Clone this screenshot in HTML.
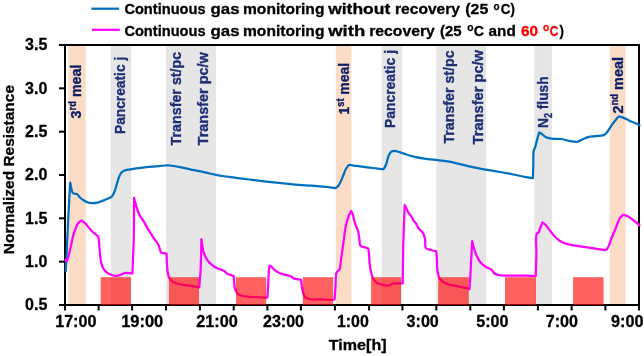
<!DOCTYPE html>
<html><head><meta charset="utf-8"><title>Normalized resistance chart</title><style>html,body{margin:0;padding:0;background:#fff;width:644px;height:356px;overflow:hidden}</style></head><body>
<svg width="644" height="356" viewBox="0 0 644 356" style="display:block;font-family:'Liberation Sans',Arial,sans-serif;font-weight:bold">
<rect width="644" height="356" fill="#fff"/>
<rect x="68.3" y="45" width="17.45" height="260" fill="#FBDCC7"/>
<rect x="335.8" y="45" width="15.60" height="260" fill="#FBDCC7"/>
<rect x="609.8" y="45" width="15.90" height="260" fill="#FBDCC7"/>
<rect x="110.8" y="45" width="20.50" height="260" fill="#E6E6E6"/>
<rect x="166.0" y="45" width="50.00" height="260" fill="#E6E6E6"/>
<rect x="381.6" y="45" width="20.60" height="260" fill="#E6E6E6"/>
<rect x="436.3" y="45" width="49.70" height="260" fill="#E6E6E6"/>
<rect x="534.3" y="45" width="17.60" height="260" fill="#E6E6E6"/>
<text transform="translate(80.7 118.39) rotate(-90)" font-size="15.2" fill="#0B1F66" stroke="#0B1F66" stroke-width="0.35" textLength="53.82" lengthAdjust="spacingAndGlyphs">3<tspan font-size="10" dy="-5">rd</tspan><tspan dy="5"> meal</tspan></text>
<text transform="translate(125.1 134.01) rotate(-90)" font-size="15.2" fill="#1E2F74" stroke="#1E2F74" stroke-width="0.35" textLength="77.22" lengthAdjust="spacingAndGlyphs">Pancreatic j</text>
<text transform="translate(180.7 145.40) rotate(-90)" font-size="15.2" fill="#1E2F74" stroke="#1E2F74" stroke-width="0.35" textLength="93.60" lengthAdjust="spacingAndGlyphs">Transfer st/pc</text>
<text transform="translate(208.1 145.40) rotate(-90)" font-size="15.2" fill="#1E2F74" stroke="#1E2F74" stroke-width="0.35" textLength="93.20" lengthAdjust="spacingAndGlyphs">Transfer pc/w</text>
<text transform="translate(349 114.42) rotate(-90)" font-size="15.2" fill="#0B1F66" stroke="#0B1F66" stroke-width="0.35" textLength="51.43" lengthAdjust="spacingAndGlyphs">1<tspan font-size="10" dy="-5">st</tspan><tspan dy="5"> meal</tspan></text>
<text transform="translate(394.5 128.03) rotate(-90)" font-size="15.2" fill="#1E2F74" stroke="#1E2F74" stroke-width="0.35" textLength="78.05" lengthAdjust="spacingAndGlyphs">Pancreatic j</text>
<text transform="translate(454 143.60) rotate(-90)" font-size="15.2" fill="#1E2F74" stroke="#1E2F74" stroke-width="0.35" textLength="93.20" lengthAdjust="spacingAndGlyphs">Transfer st/pc</text>
<text transform="translate(483 144.40) rotate(-90)" font-size="15.2" fill="#1E2F74" stroke="#1E2F74" stroke-width="0.35" textLength="94.40" lengthAdjust="spacingAndGlyphs">Transfer pc/w</text>
<text transform="translate(547.7 128.03) rotate(-90)" font-size="15.2" fill="#1E2F74" stroke="#1E2F74" stroke-width="0.35" textLength="51.63" lengthAdjust="spacingAndGlyphs">N<tspan font-size="10" dy="4">2</tspan><tspan dy="-4"> flush</tspan></text>
<text transform="translate(622.5 113.61) rotate(-90)" font-size="15.2" fill="#0B1F66" stroke="#0B1F66" stroke-width="0.35" textLength="56.63" lengthAdjust="spacingAndGlyphs">2<tspan font-size="10" dy="-5">nd</tspan><tspan dy="5"> meal</tspan></text>
<rect x="65" y="45" width="574" height="260" fill="none" stroke="#000" stroke-width="2"/>
<path d="M65.90,271.00C66.73,252.33 67.59,231.13 68.40,215.00C69.01,202.73 69.60,193.40 70.20,182.60C71.03,185.97 71.48,191.14 72.70,192.70C73.25,193.41 73.90,193.44 74.60,193.70C75.38,193.99 76.41,193.82 77.20,194.30C78.14,194.87 78.73,196.26 79.70,197.20C80.79,198.27 82.18,199.45 83.50,200.30C84.72,201.09 85.91,201.74 87.30,202.20C88.82,202.71 90.62,203.03 92.30,203.10C93.99,203.17 95.73,202.96 97.40,202.60C99.10,202.23 100.73,201.53 102.40,200.90C104.10,200.26 105.88,199.56 107.50,198.80C109.04,198.08 110.71,197.72 111.90,196.50C113.32,195.05 114.10,192.52 115.00,190.20C116.03,187.55 116.81,183.87 117.60,181.40C118.18,179.58 118.58,178.15 119.20,176.70C119.76,175.37 120.25,174.04 121.10,173.00C121.93,171.98 122.90,171.11 124.20,170.50C125.84,169.74 127.97,169.70 130.40,169.30C133.82,168.74 138.65,168.08 142.80,167.60C146.95,167.12 151.38,166.77 155.30,166.40C158.79,166.07 162.46,165.62 165.20,165.50C167.15,165.41 168.26,165.34 170.20,165.50C172.95,165.72 176.81,166.47 180.10,167.10C183.41,167.73 186.87,168.64 190.00,169.30C192.81,169.89 195.34,170.35 198.00,170.90C200.64,171.45 203.11,171.98 205.90,172.60C209.04,173.30 212.47,174.23 215.90,174.90C219.49,175.60 223.19,176.13 227.00,176.70C231.04,177.30 235.34,177.88 239.50,178.40C243.64,178.92 247.77,179.32 251.90,179.80C256.03,180.28 260.23,180.83 264.30,181.30C268.26,181.76 272.21,182.21 276.00,182.60C279.57,182.97 282.78,183.25 286.40,183.60C290.35,183.98 294.66,184.45 298.80,184.80C302.96,185.15 307.14,185.38 311.30,185.70C315.44,186.02 319.62,186.29 323.70,186.70C327.69,187.10 331.57,187.63 335.50,188.10C336.53,187.23 337.61,186.79 338.60,185.50C340.18,183.44 341.71,179.06 343.00,176.10C344.13,173.50 344.92,170.66 346.00,168.70C346.79,167.26 347.67,166.37 348.50,165.20C349.33,165.13 350.13,164.95 351.00,165.00C351.96,165.06 352.83,165.41 354.00,165.60C355.63,165.86 357.57,166.00 359.90,166.30C363.30,166.73 368.35,167.51 372.40,168.00C376.21,168.46 379.80,168.80 383.50,169.20C384.33,167.73 385.26,166.57 386.00,164.80C386.99,162.44 387.50,158.45 388.50,156.10C389.24,154.36 389.86,152.65 391.00,151.80C392.00,151.05 393.38,150.89 394.70,150.90C396.24,150.91 397.95,151.68 399.70,152.20C401.67,152.79 403.65,153.60 405.90,154.30C408.55,155.13 411.59,156.10 414.60,156.80C417.78,157.54 420.94,158.06 424.50,158.60C428.62,159.22 433.63,159.68 437.90,160.20C441.80,160.68 445.49,160.96 449.10,161.60C452.54,162.21 455.59,163.09 459.10,163.90C463.01,164.81 467.36,165.90 471.50,166.80C475.63,167.70 479.76,168.53 483.90,169.30C488.03,170.07 492.23,170.71 496.30,171.40C500.26,172.07 504.50,172.74 508.00,173.40C510.87,173.94 513.05,174.43 515.80,175.00C518.90,175.65 522.65,176.57 525.70,177.10C528.28,177.55 530.50,177.77 532.90,178.10C533.03,173.97 533.17,170.01 533.30,165.70C533.44,161.01 533.05,154.21 533.70,151.00C534.03,149.36 534.64,148.83 535.10,147.40C535.74,145.41 536.33,142.56 537.00,140.10C537.69,137.56 538.47,134.97 539.20,132.40C539.97,132.83 540.72,133.15 541.50,133.70C542.42,134.34 543.26,135.41 544.30,136.10C545.39,136.82 546.54,137.46 547.90,137.90C549.51,138.42 551.41,138.61 553.40,138.80C555.72,139.02 558.74,138.72 561.00,139.00C562.85,139.23 564.43,139.73 566.00,140.10C567.41,140.43 568.44,140.85 570.00,141.10C572.14,141.45 575.67,142.08 577.70,141.70C579.14,141.43 579.82,140.61 581.20,140.00C583.12,139.15 585.82,137.83 588.20,137.20C590.52,136.58 592.83,136.54 595.30,136.20C597.98,135.84 601.72,135.91 603.70,135.10C604.97,134.58 605.51,134.05 606.50,133.00C608.19,131.21 610.12,127.33 612.10,124.60C614.09,121.86 616.30,119.27 618.40,116.60C619.57,116.77 620.57,116.70 621.90,117.10C623.87,117.69 626.55,119.32 628.90,120.40C631.25,121.49 634.05,122.69 636.00,123.60C637.38,124.24 638.33,124.73 639.50,125.30" fill="none" stroke="#0070C0" stroke-width="2.25" stroke-linejoin="round" stroke-linecap="round"/>
<path d="M64.80,260.70C65.40,260.60 66.11,260.72 66.60,260.40C67.14,260.04 67.41,259.39 67.80,258.50C68.54,256.80 69.12,253.74 69.90,250.60C71.04,246.01 72.29,238.44 73.80,233.60C74.97,229.83 76.14,226.13 77.70,223.80C78.78,222.19 80.10,221.47 81.30,220.30C82.73,221.47 84.12,222.36 85.60,223.80C87.49,225.65 89.37,228.57 91.50,230.70C93.63,232.83 96.10,234.63 98.40,236.60C98.60,238.23 98.80,239.58 99.00,241.50C99.28,244.20 99.44,247.89 99.80,251.30C100.19,255.06 100.38,259.75 101.30,263.10C102.03,265.77 102.89,268.16 104.30,270.00C105.59,271.68 107.26,272.93 109.20,273.90C111.40,275.00 114.84,275.99 117.00,275.90C118.57,275.83 119.68,274.99 121.00,274.50C122.31,274.02 123.36,273.24 124.90,273.00C126.97,272.67 129.90,273.27 132.40,273.40C132.83,262.27 133.41,251.78 133.70,240.00C134.02,226.78 133.97,211.93 134.10,197.90C134.67,200.13 135.16,202.40 135.80,204.60C136.43,206.77 137.15,209.02 137.90,211.00C138.56,212.76 139.15,214.37 140.00,215.90C140.83,217.40 141.97,218.63 142.90,220.10C143.88,221.65 144.77,223.37 145.70,225.00C146.63,226.63 147.54,228.35 148.50,229.90C149.41,231.37 150.45,232.75 151.30,234.10C152.07,235.31 152.67,236.49 153.40,237.60C154.10,238.66 154.84,239.51 155.60,240.60C156.49,241.87 157.69,243.35 158.40,244.80C159.06,246.16 159.32,247.66 159.80,249.00C160.25,250.25 160.40,251.90 161.20,252.60C161.89,253.21 163.08,253.15 164.00,253.30C164.88,253.44 165.73,253.43 166.60,253.50C166.70,256.70 166.72,260.01 166.90,263.10C167.07,266.00 167.15,268.90 167.60,271.50C168.00,273.82 168.36,276.21 169.30,278.00C170.12,279.55 171.30,280.88 172.60,281.80C173.85,282.68 175.20,283.00 176.90,283.50C179.21,284.18 182.49,284.72 185.30,285.20C188.09,285.68 191.20,286.02 193.70,286.40C195.73,286.71 197.37,287.00 199.20,287.30C199.67,281.53 200.25,276.60 200.60,270.00C201.07,261.21 201.13,249.47 201.40,239.20C201.73,241.57 201.99,244.01 202.40,246.30C202.79,248.47 203.17,250.66 203.80,252.60C204.37,254.36 205.15,256.03 205.90,257.50C206.56,258.79 207.08,259.84 208.00,261.00C209.11,262.41 210.82,264.00 212.30,265.20C213.66,266.30 214.95,267.21 216.50,268.00C218.19,268.86 220.57,269.43 222.10,270.10C223.21,270.58 224.08,270.91 224.90,271.50C225.70,272.08 226.18,273.08 227.00,273.60C227.82,274.12 228.80,274.21 229.80,274.60C230.98,275.06 232.33,275.67 233.60,276.20C233.83,278.77 234.03,281.63 234.30,283.90C234.51,285.72 234.46,287.22 235.00,288.80C235.58,290.49 236.55,292.52 237.80,293.70C238.94,294.78 240.37,295.29 242.00,295.80C244.01,296.43 246.74,296.57 249.10,296.80C251.44,297.03 253.77,297.08 256.10,297.20C258.43,297.32 261.05,297.46 263.10,297.50C264.71,297.53 265.97,297.50 267.40,297.50C267.63,293.70 267.88,290.10 268.10,286.10C268.35,281.65 268.50,275.76 268.80,272.00C269.00,269.48 269.27,267.80 269.50,265.70C269.97,265.83 270.43,265.80 270.90,266.10C271.59,266.54 272.22,267.73 273.00,268.50C273.84,269.33 274.73,270.16 275.80,270.90C277.02,271.74 278.56,272.58 280.00,273.20C281.40,273.80 282.76,274.16 284.30,274.60C286.04,275.10 288.50,275.50 289.90,276.00C290.79,276.32 291.40,276.58 292.00,277.00C292.55,277.39 292.76,278.06 293.40,278.40C294.26,278.86 295.68,278.88 296.90,279.10C298.23,279.34 299.70,279.57 301.10,279.80C301.33,281.90 301.47,283.95 301.80,286.10C302.15,288.38 302.51,291.10 303.20,293.10C303.76,294.72 304.23,296.32 305.30,297.30C306.35,298.27 307.92,298.62 309.50,299.00C311.40,299.46 313.97,299.57 316.00,299.60C317.77,299.63 318.98,299.31 321.00,299.30C324.10,299.29 330.61,300.20 332.80,299.90C333.68,299.78 334.00,299.50 334.60,299.30C334.90,294.73 335.18,290.09 335.50,285.60C335.81,281.26 335.51,275.18 336.50,272.80C336.96,271.69 337.75,271.34 338.30,270.70C338.77,270.16 339.24,269.99 339.60,269.20C340.39,267.50 340.54,263.28 341.00,260.10C341.51,256.61 342.01,252.59 342.50,249.10C342.94,245.92 343.32,243.35 343.80,240.00C344.39,235.86 344.91,230.31 345.80,226.10C346.57,222.49 347.55,218.95 348.60,216.20C349.40,214.12 350.33,212.67 351.20,210.90C351.77,212.20 352.37,213.22 352.90,214.80C353.67,217.06 354.14,220.63 355.00,223.30C355.80,225.78 357.10,227.93 357.80,230.30C358.48,232.60 358.85,234.96 359.20,237.30C359.55,239.62 359.33,242.70 359.90,244.30C360.24,245.26 360.64,245.93 361.30,246.40C362.01,246.90 363.08,246.80 364.10,247.10C365.36,247.47 366.90,248.03 368.30,248.50C368.53,250.33 368.79,251.90 369.00,254.00C369.28,256.82 369.33,260.74 369.70,263.90C370.05,266.82 370.46,269.72 371.10,272.30C371.66,274.57 372.26,276.87 373.20,278.60C373.97,280.02 374.76,281.13 376.00,282.10C377.47,283.24 379.77,284.12 381.70,284.70C383.54,285.26 385.75,285.59 387.30,285.60C388.39,285.61 389.27,285.52 390.10,285.20C390.89,284.90 391.37,284.12 392.20,283.80C393.18,283.42 394.48,283.39 395.70,283.30C397.03,283.21 398.64,283.26 399.90,283.30C400.93,283.34 401.77,283.43 402.70,283.50C402.93,269.00 403.03,253.70 403.40,240.00C403.73,227.72 404.27,216.73 404.70,205.10C405.30,206.27 405.88,207.37 406.50,208.60C407.18,209.96 407.77,211.58 408.60,212.90C409.41,214.18 410.58,215.14 411.40,216.40C412.25,217.70 412.75,219.30 413.60,220.60C414.42,221.86 415.59,222.83 416.40,224.10C417.23,225.40 417.70,227.19 418.50,228.30C419.14,229.18 419.90,229.70 420.60,230.40C421.30,231.10 422.12,231.70 422.70,232.50C423.29,233.32 423.72,234.25 424.10,235.30C424.55,236.54 424.83,237.84 425.10,239.50C425.49,241.85 424.67,246.44 425.90,248.10C426.79,249.30 428.56,249.31 430.10,249.80C431.88,250.37 434.03,250.73 436.00,251.20C436.27,252.87 436.60,254.12 436.80,256.20C437.13,259.60 436.74,265.76 437.30,269.70C437.75,272.86 438.16,275.91 439.40,278.10C440.43,279.92 441.90,281.21 443.60,282.30C445.47,283.50 447.91,284.12 450.30,284.80C452.91,285.55 455.90,285.93 458.70,286.50C461.50,287.07 465.20,287.57 467.10,288.20C468.14,288.55 468.63,288.93 469.40,289.30C469.70,284.97 470.01,281.02 470.30,276.30C470.65,270.68 470.98,263.81 471.30,257.80C471.61,252.09 471.90,246.67 472.20,241.10C472.80,243.57 473.24,246.06 474.00,248.50C474.77,250.99 475.70,253.55 476.80,255.90C477.87,258.18 478.93,260.54 480.50,262.40C482.04,264.23 484.17,265.74 486.10,267.00C487.88,268.16 490.17,268.60 491.60,269.80C492.84,270.84 493.19,272.63 494.40,273.50C495.64,274.38 497.74,274.68 499.00,275.00C499.86,275.22 500.20,275.29 501.20,275.40C503.31,275.62 507.51,275.65 511.10,275.70C515.36,275.76 520.76,275.66 525.10,275.70C528.88,275.74 532.17,275.83 535.70,275.90C535.93,268.93 536.22,262.01 536.40,255.00C536.58,247.91 535.31,236.19 536.80,233.60C537.27,232.79 538.10,233.12 538.60,232.50C539.36,231.57 539.60,229.57 540.20,228.00C540.88,226.23 541.73,224.27 542.50,222.40C543.47,223.13 544.46,223.66 545.40,224.60C546.57,225.77 547.58,227.52 548.80,229.10C550.19,230.89 551.75,233.05 553.30,234.80C554.75,236.43 556.13,237.99 557.80,239.30C559.49,240.63 561.48,241.82 563.40,242.70C565.22,243.53 567.17,244.04 569.00,244.50C570.70,244.92 572.07,245.07 574.00,245.40C576.66,245.85 580.16,246.40 583.50,246.90C587.22,247.46 591.60,248.04 595.30,248.60C598.59,249.10 601.50,249.60 604.60,250.10C605.43,249.70 606.31,249.73 607.10,248.90C608.67,247.24 609.90,242.17 611.30,238.80C612.70,235.43 614.10,232.08 615.50,228.70C616.90,225.31 618.13,220.96 619.70,218.50C620.76,216.84 621.97,216.03 623.10,214.80C624.50,215.20 625.88,215.35 627.30,216.00C628.98,216.78 630.73,218.16 632.40,219.40C634.13,220.69 636.19,222.51 637.50,223.60C638.32,224.29 638.83,224.73 639.50,225.30" fill="none" stroke="#FF00FF" stroke-width="2.25" stroke-linejoin="round" stroke-linecap="round"/>
<circle cx="66.3" cy="260.6" r="2" fill="#FF00FF"/>
<rect x="100.7" y="277.2" width="30.20" height="27.80000000000001" fill="rgba(255,0,0,0.625)"/>
<rect x="168.9" y="277.2" width="30.10" height="27.80000000000001" fill="rgba(255,0,0,0.625)"/>
<rect x="236" y="277.2" width="30.20" height="27.80000000000001" fill="rgba(255,0,0,0.625)"/>
<rect x="302.8" y="277.2" width="30.40" height="27.80000000000001" fill="rgba(255,0,0,0.625)"/>
<rect x="371.1" y="277.2" width="29.90" height="27.80000000000001" fill="rgba(255,0,0,0.625)"/>
<rect x="438.2" y="277.2" width="30.60" height="27.80000000000001" fill="rgba(255,0,0,0.625)"/>
<rect x="505" y="277.2" width="30.90" height="27.80000000000001" fill="rgba(255,0,0,0.625)"/>
<rect x="573.1" y="277.2" width="30.50" height="27.80000000000001" fill="rgba(255,0,0,0.625)"/>
<line x1="59" y1="45.00" x2="65" y2="45.00" stroke="#000" stroke-width="2"/>
<line x1="59" y1="88.33" x2="65" y2="88.33" stroke="#000" stroke-width="2"/>
<line x1="59" y1="131.67" x2="65" y2="131.67" stroke="#000" stroke-width="2"/>
<line x1="59" y1="175.00" x2="65" y2="175.00" stroke="#000" stroke-width="2"/>
<line x1="59" y1="218.33" x2="65" y2="218.33" stroke="#000" stroke-width="2"/>
<line x1="59" y1="261.67" x2="65" y2="261.67" stroke="#000" stroke-width="2"/>
<line x1="59" y1="305.00" x2="65" y2="305.00" stroke="#000" stroke-width="2"/>
<line x1="65" y1="305" x2="65" y2="310.5" stroke="#000" stroke-width="2"/>
<line x1="98.6" y1="305" x2="98.6" y2="310.5" stroke="#000" stroke-width="2"/>
<line x1="132.1" y1="305" x2="132.1" y2="310.5" stroke="#000" stroke-width="2"/>
<line x1="166" y1="305" x2="166" y2="310.5" stroke="#000" stroke-width="2"/>
<line x1="199.9" y1="305" x2="199.9" y2="310.5" stroke="#000" stroke-width="2"/>
<line x1="233.7" y1="305" x2="233.7" y2="310.5" stroke="#000" stroke-width="2"/>
<line x1="267.4" y1="305" x2="267.4" y2="310.5" stroke="#000" stroke-width="2"/>
<line x1="300.9" y1="305" x2="300.9" y2="310.5" stroke="#000" stroke-width="2"/>
<line x1="334.9" y1="305" x2="334.9" y2="310.5" stroke="#000" stroke-width="2"/>
<line x1="369.1" y1="305" x2="369.1" y2="310.5" stroke="#000" stroke-width="2"/>
<line x1="402.4" y1="305" x2="402.4" y2="310.5" stroke="#000" stroke-width="2"/>
<line x1="436.3" y1="305" x2="436.3" y2="310.5" stroke="#000" stroke-width="2"/>
<line x1="470.3" y1="305" x2="470.3" y2="310.5" stroke="#000" stroke-width="2"/>
<line x1="503.9" y1="305" x2="503.9" y2="310.5" stroke="#000" stroke-width="2"/>
<line x1="537.9" y1="305" x2="537.9" y2="310.5" stroke="#000" stroke-width="2"/>
<line x1="571.6" y1="305" x2="571.6" y2="310.5" stroke="#000" stroke-width="2"/>
<line x1="605.4" y1="305" x2="605.4" y2="310.5" stroke="#000" stroke-width="2"/>
<line x1="639" y1="305" x2="639" y2="310.5" stroke="#000" stroke-width="2"/>
<text x="47.3" y="50.40" font-size="16" text-anchor="end" fill="#000" stroke="#000" stroke-width="0.3">3.5</text>
<text x="47.3" y="93.73" font-size="16" text-anchor="end" fill="#000" stroke="#000" stroke-width="0.3">3.0</text>
<text x="47.3" y="137.07" font-size="16" text-anchor="end" fill="#000" stroke="#000" stroke-width="0.3">2.5</text>
<text x="47.3" y="180.40" font-size="16" text-anchor="end" fill="#000" stroke="#000" stroke-width="0.3">2.0</text>
<text x="47.3" y="223.73" font-size="16" text-anchor="end" fill="#000" stroke="#000" stroke-width="0.3">1.5</text>
<text x="47.3" y="267.07" font-size="16" text-anchor="end" fill="#000" stroke="#000" stroke-width="0.3">1.0</text>
<text x="47.3" y="310.40" font-size="16" text-anchor="end" fill="#000" stroke="#000" stroke-width="0.3">0.5</text>
<text transform="translate(14.3 254.20) rotate(-90)" font-size="15.5" fill="#000" stroke="#000" stroke-width="0.3" textLength="169.20" lengthAdjust="spacingAndGlyphs">Normalized Resistance</text>
<text x="328.80" y="350.2" font-size="14.5" fill="#000" stroke="#000" stroke-width="0.3" textLength="57.80" lengthAdjust="spacingAndGlyphs">Time[h]</text>
<text x="55.19" y="327.2" font-size="16" fill="#000" stroke="#000" stroke-width="0.3" textLength="41.23" lengthAdjust="spacingAndGlyphs">17:00</text>
<text x="121.19" y="327.2" font-size="16" fill="#000" stroke="#000" stroke-width="0.3" textLength="42.02" lengthAdjust="spacingAndGlyphs">19:00</text>
<text x="196.20" y="327.2" font-size="16" fill="#000" stroke="#000" stroke-width="0.3" textLength="41.60" lengthAdjust="spacingAndGlyphs">21:00</text>
<text x="263.00" y="327.2" font-size="16" fill="#000" stroke="#000" stroke-width="0.3" textLength="41.00" lengthAdjust="spacingAndGlyphs">23:00</text>
<text x="336.95" y="327.2" font-size="16" fill="#000" stroke="#000" stroke-width="0.3" textLength="31.87" lengthAdjust="spacingAndGlyphs">1:00</text>
<text x="406.60" y="327.2" font-size="16" fill="#000" stroke="#000" stroke-width="0.3" textLength="32.21" lengthAdjust="spacingAndGlyphs">3:00</text>
<text x="476.20" y="327.2" font-size="16" fill="#000" stroke="#000" stroke-width="0.3" textLength="32.20" lengthAdjust="spacingAndGlyphs">5:00</text>
<text x="545.80" y="327.2" font-size="16" fill="#000" stroke="#000" stroke-width="0.3" textLength="32.21" lengthAdjust="spacingAndGlyphs">7:00</text>
<text x="611.00" y="327.2" font-size="16" fill="#000" stroke="#000" stroke-width="0.3" textLength="32.42" lengthAdjust="spacingAndGlyphs">9:00</text>
<text x="124.38" y="14.0" font-size="15.4" fill="#000" stroke="#000" stroke-width="0.3" textLength="81.23" lengthAdjust="spacingAndGlyphs">Continuous</text>
<text x="210.57" y="14.0" font-size="15.4" fill="#000" stroke="#000" stroke-width="0.3" textLength="29.04" lengthAdjust="spacingAndGlyphs">gas</text>
<text x="242.99" y="14.0" font-size="15.4" fill="#000" stroke="#000" stroke-width="0.3" textLength="81.44" lengthAdjust="spacingAndGlyphs">monitoring</text>
<text x="328.20" y="14.0" font-size="15.4" fill="#000" stroke="#000" stroke-width="0.3" textLength="62.00" lengthAdjust="spacingAndGlyphs">without</text>
<text x="394.99" y="14.0" font-size="15.4" fill="#000" stroke="#000" stroke-width="0.3" textLength="65.00" lengthAdjust="spacingAndGlyphs">recovery</text>
<text x="465.34" y="14.0" font-size="15.4" fill="#000" stroke="#000" stroke-width="0.3" textLength="22.90" lengthAdjust="spacingAndGlyphs">(25</text>
<text x="500.79" y="14.0" font-size="15.4" fill="#000" stroke="#000" stroke-width="0.3" textLength="14.08" lengthAdjust="spacingAndGlyphs">C)</text>
<text x="493.58" y="9.7" font-size="10" fill="#000" stroke="#000" stroke-width="0.25" textLength="6.05" lengthAdjust="spacingAndGlyphs">o</text>
<text x="124.38" y="35.6" font-size="15.4" fill="#000" stroke="#000" stroke-width="0.3" textLength="81.23" lengthAdjust="spacingAndGlyphs">Continuous</text>
<text x="210.57" y="35.6" font-size="15.4" fill="#000" stroke="#000" stroke-width="0.3" textLength="29.04" lengthAdjust="spacingAndGlyphs">gas</text>
<text x="242.99" y="35.6" font-size="15.4" fill="#000" stroke="#000" stroke-width="0.3" textLength="81.44" lengthAdjust="spacingAndGlyphs">monitoring</text>
<text x="328.20" y="35.6" font-size="15.4" fill="#000" stroke="#000" stroke-width="0.3" textLength="37.01" lengthAdjust="spacingAndGlyphs">with</text>
<text x="369.20" y="35.6" font-size="15.4" fill="#000" stroke="#000" stroke-width="0.3" textLength="65.60" lengthAdjust="spacingAndGlyphs">recovery</text>
<text x="440.00" y="35.6" font-size="15.4" fill="#000" stroke="#000" stroke-width="0.3" textLength="21.60" lengthAdjust="spacingAndGlyphs">(25</text>
<text x="473.79" y="35.6" font-size="15.4" fill="#000" stroke="#000" stroke-width="0.3" textLength="10.24" lengthAdjust="spacingAndGlyphs">C</text>
<text x="488.61" y="35.6" font-size="15.4" fill="#000" stroke="#000" stroke-width="0.3" textLength="27.21" lengthAdjust="spacingAndGlyphs">and</text>
<text x="559.59" y="35.6" font-size="15.4" fill="#000" stroke="#000" stroke-width="0.3" textLength="4.41" lengthAdjust="spacingAndGlyphs">)</text>
<text x="467.36" y="31.3" font-size="10" fill="#000" stroke="#000" stroke-width="0.25" textLength="6.27" lengthAdjust="spacingAndGlyphs">o</text>
<text x="521.00" y="35.6" font-size="15.4" fill="#FF0000" stroke="#FF0000" stroke-width="0.3" textLength="17.00" lengthAdjust="spacingAndGlyphs">60</text>
<text x="543.00" y="31.3" font-size="10" fill="#FF0000" stroke="#FF0000" stroke-width="0.25" textLength="6.27" lengthAdjust="spacingAndGlyphs">o</text>
<text x="549.80" y="35.6" font-size="15.4" fill="#FF0000" stroke="#FF0000" stroke-width="0.3" textLength="8.60" lengthAdjust="spacingAndGlyphs">C</text>
<line x1="91.4" y1="8.7" x2="119.1" y2="8.7" stroke="#0070C0" stroke-width="2.25"/>
<line x1="92" y1="29.8" x2="119.8" y2="29.8" stroke="#FF00FF" stroke-width="2.25"/>
</svg>
</body></html>
